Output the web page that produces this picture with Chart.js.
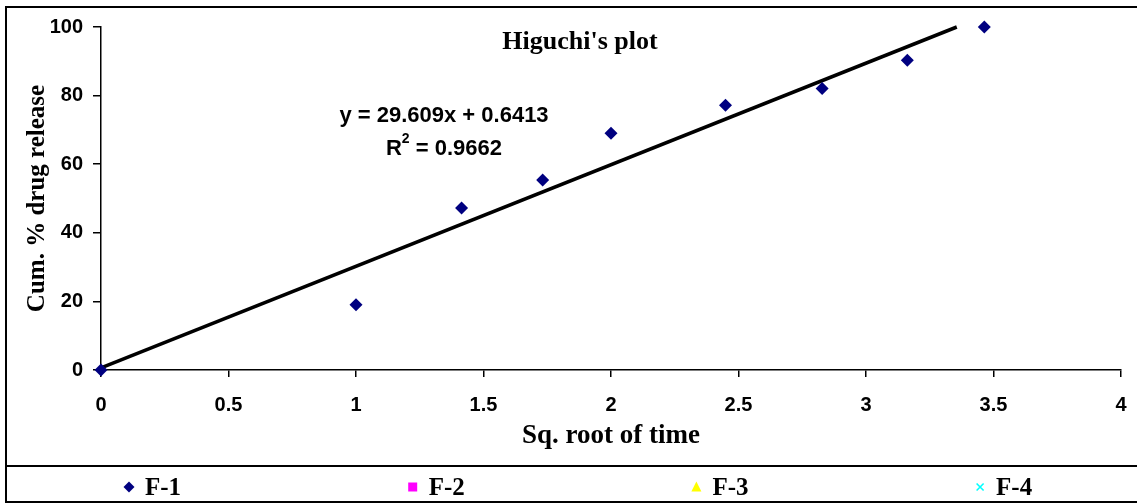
<!DOCTYPE html>
<html>
<head>
<meta charset="utf-8">
<script src="https://cdn.jsdelivr.net/npm/chart.js@4.4.1/dist/chart.umd.min.js"></script>
<style>
  html, body { margin: 0; padding: 0; background: #fff; }
  #wrap { width: 1137px; height: 504px; position: relative; }
</style>
</head>
<body>
<div id="wrap"><canvas id="plot"></canvas></div>
<script>
"use strict";

// data
const sqrtTime = [0, 1, 1.414, 1.732, 2, 2.449, 2.828, 3.162, 3.464];
const releaseF1 = [0, 19, 47.2, 55.4, 69, 77.2, 82.1, 90.3, 100];
const trendX = [0, 3.356];
const trendY = [0.64, 100];
const seriesNames = ["F-1", "F-2", "F-3", "F-4"];
const seriesColors = ["#000080", "#FF00FF", "#FFFF00", "#00FFFF"];
const xTickValues = [0, 0.5, 1, 1.5, 2, 2.5, 3, 3.5, 4];
const yTickValues = [0, 20, 40, 60, 80, 100];
const chartTitle = "Higuchi's plot";
const eqLine = "y = 29.609x + 0.6413";
const r2Value = "0.9662";

const SERIF = '"Liberation Serif", "Times New Roman", serif';
const SANS = '"Liberation Sans", Arial, sans-serif';

function legendMarker(ctx, i, x, y) {
  ctx.fillStyle = seriesColors[i];
  ctx.strokeStyle = seriesColors[i];
  ctx.beginPath();
  if (i === 0) {
    ctx.moveTo(x, y - 5.5); ctx.lineTo(x + 5.5, y); ctx.lineTo(x, y + 5.5); ctx.lineTo(x - 5.5, y);
    ctx.closePath(); ctx.fill();
  } else if (i === 1) {
    ctx.rect(x - 4.5, y - 4.5, 9, 9); ctx.fill();
  } else if (i === 2) {
    ctx.moveTo(x, y - 5.5); ctx.lineTo(x + 5, y + 4.5); ctx.lineTo(x - 5, y + 4.5);
    ctx.closePath(); ctx.fill();
  } else {
    ctx.lineWidth = 1.6;
    ctx.moveTo(x - 3.5, y - 3.5); ctx.lineTo(x + 3.5, y + 3.5);
    ctx.moveTo(x + 3.5, y - 3.5); ctx.lineTo(x - 3.5, y + 3.5);
    ctx.stroke();
  }
}

const decor = {
  id: "decor",
  afterDraw(chart) {
    const ctx = chart.ctx;
    ctx.save();
    // frame + legend separator
    ctx.strokeStyle = "#000";
    ctx.lineWidth = 2;
    ctx.strokeRect(6, 7, 1140, 495);
    ctx.beginPath();
    ctx.moveTo(6, 466);
    ctx.lineTo(1137, 466);
    ctx.stroke();

    // title inside the plot
    ctx.fillStyle = "#000";
    ctx.textAlign = "center";
    ctx.textBaseline = "alphabetic";
    ctx.font = "bold 26px " + SERIF;
    ctx.fillText(chartTitle, 580, 49);

    // trendline label
    ctx.font = "bold 22px " + SANS;
    ctx.fillText(eqLine, 444, 122);
    const a = "R", b = " = " + r2Value;
    const wa = ctx.measureText(a).width;
    const wb = ctx.measureText(b).width;
    ctx.font = "bold 14px " + SANS;
    const ws = ctx.measureText("2").width;
    const x0 = 444 - (wa + ws + wb) / 2;
    ctx.textAlign = "left";
    ctx.font = "bold 22px " + SANS;
    ctx.fillText(a, x0, 155);
    ctx.font = "bold 14px " + SANS;
    ctx.fillText("2", x0 + wa, 143);
    ctx.font = "bold 22px " + SANS;
    ctx.fillText(b, x0 + wa + ws, 155);

    // legend row
    ctx.font = "bold 25px " + SERIF;
    seriesNames.forEach((name, i) => {
      const mx = 129 + i * 283.7;
      legendMarker(ctx, i, mx, 487);
      ctx.fillStyle = "#000";
      ctx.fillText(name, mx + 16, 495);
    });
    ctx.restore();
  },
};

const xy = (xs, ys) => xs.map((x, i) => ({ x, y: ys[i] }));

new Chart(document.getElementById("plot"), {
  type: "scatter",
  data: {
    datasets: [
      {
        label: "F-1",
        data: xy(sqrtTime, releaseF1),
        pointStyle: "rectRot",
        pointRadius: 6.5,
        pointHoverRadius: 6.5,
        backgroundColor: seriesColors[0],
        borderColor: seriesColors[0],
        borderWidth: 0,
        clip: false,
        order: 1,
      },
      {
        label: "trend",
        type: "line",
        data: xy(trendX, trendY),
        borderColor: "#000",
        borderWidth: 3.5,
        pointRadius: 0,
        fill: false,
        clip: false,
        order: 2,
      },
    ],
  },
  options: {
    responsive: true,
    maintainAspectRatio: false,
    animation: false,
    events: [],
    layout: { padding: { top: 27, left: 0, right: 0, bottom: 38 } },
    plugins: { legend: { display: false }, tooltip: { enabled: false } },
    scales: {
      x: {
        type: "linear",
        min: 0,
        max: 4,
        afterFit: (s) => { s.height = 96; s.paddingRight = 16; s.paddingLeft = 0; },
        afterBuildTicks: (s) => { s.ticks = xTickValues.map((v) => ({ value: v })); },
        ticks: {
          color: "#000",
          padding: 16,
          font: { family: SANS, size: 20, weight: "bold" },
          callback: (v) => String(v),
        },
        grid: { drawOnChartArea: false, drawTicks: true, tickLength: 7, color: "#000", lineWidth: 1.5 },
        border: { display: true, color: "#000", width: 1.5 },
        title: {
          display: true,
          text: "Sq. root of time",
          color: "#000",
          font: { family: SERIF, size: 27, weight: "bold" },
          padding: { top: 0, bottom: 14 },
        },
      },
      y: {
        type: "linear",
        min: 0,
        max: 100,
        afterFit: (s) => { s.width = 101; },
        afterBuildTicks: (s) => { s.ticks = yTickValues.map((v) => ({ value: v })); },
        ticks: {
          color: "#000",
          padding: 10,
          font: { family: SANS, size: 20, weight: "bold" },
          callback: (v) => String(v),
        },
        grid: { drawOnChartArea: false, drawTicks: true, tickLength: 8, color: "#000", lineWidth: 1.5 },
        border: { display: true, color: "#000", width: 1.5 },
        title: {
          display: true,
          text: "Cum. % drug release",
          color: "#000",
          font: { family: SERIF, size: 25, weight: "bold" },
          padding: { top: 23, bottom: 0 },
        },
      },
    },
  },
  plugins: [decor],
});
</script>
</body>
</html>
